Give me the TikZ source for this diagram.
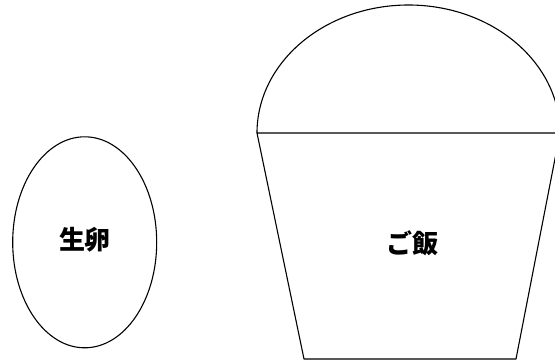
\documentclass[tikz,border=0pt]{standalone}
\usepackage{fontspec}
\usetikzlibrary{shapes.geometric}
\newfontfamily\jpfont{Noto Sans CJK JP}

\tikzset{
    outline/.style={draw, line width=1.1pt},
    food/.style={font=\jpfont\bfseries\fontsize{26}{30}\selectfont},
}

\begin{document}
\begin{tikzpicture}[x=1pt, y=-1pt]
    \useasboundingbox (0,0) rectangle (555,360);
    % egg
    \node [outline, ellipse, minimum width=144pt, minimum height=211pt, inner sep=0pt] (egg) at (84.7,242.3) {};
    \node [food] (eggtxt) at (85,240) {生卵};

    % bowl
    \coordinate (tl) at (257,133);
    \coordinate (tr) at (560,133);
    \coordinate (br) at (516,359);
    \coordinate (bl) at (304,359);
    \draw [outline] (tl) arc [start angle=180, end angle=0, x radius=151.5pt, y radius=128pt];
    \draw [outline, fill=white, line join=round] (tl) -- (tr) -- (br) -- (bl) -- cycle;
    \node [food] (rice) at (412,243) {ご飯};
\end{tikzpicture}
\end{document}
